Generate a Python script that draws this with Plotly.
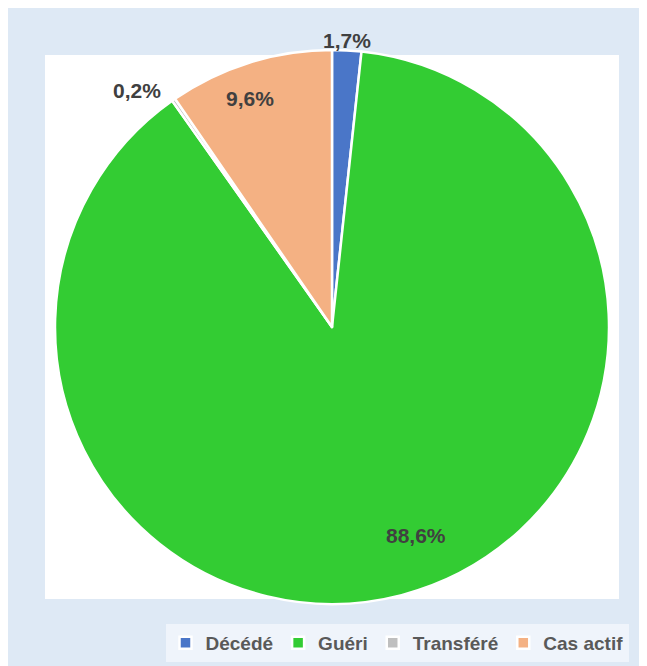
import plotly.graph_objects as go

categories = ["Décédé", "Guéri", "Transféré", "Cas actif"]
values = [1.7, 88.6, 0.2, 9.6]
colors = ["#4A76C8", "#33CC33", "#BFBFBF", "#F4B183"]
# label anchor points (page pixels) as placed by the original chart
label_px = [(347, 40), (416, 535), (137, 90), (250, 98)]

OFF = 8  # body margin of the html page
W, H = 647 - OFF, 666 - OFF


def px(x):
    return (x - OFF) / W


def py(y):
    return 1 - (y - OFF) / H


labels_text = [f"{v:.1f}%".replace(".", ",") for v in values]

cx, cy, r = 332, 327, 277

fig = go.Figure()
fig.add_trace(go.Pie(
    labels=categories,
    values=values,
    sort=False,
    direction="clockwise",
    rotation=0,
    marker=dict(colors=colors, line=dict(color="white", width=2.5)),
    textinfo="none",
    hoverinfo="label+percent",
    domain=dict(x=[px(cx - r), px(cx + r)], y=[py(cy + r), py(cy - r)]),
    showlegend=True,
))

annotations = []
for t, (lx, ly) in zip(labels_text, label_px):
    annotations.append(dict(
        x=px(lx), y=py(ly), xref="paper", yref="paper",
        text=t, showarrow=False, xanchor="center", yanchor="middle",
        font=dict(family="Liberation Sans, Arial", size=21, color="#404040", weight="bold"),
    ))

fig.update_layout(
    width=W, height=H,
    margin=dict(l=0, r=0, t=0, b=0),
    paper_bgcolor="white",
    plot_bgcolor="white",
    annotations=annotations,
    shapes=[
        dict(type="rect", xref="paper", yref="paper", layer="below",
             x0=px(7), x1=px(643), y0=-0.05, y1=py(7),
             fillcolor="#DEE9F5", line=dict(width=0)),
        dict(type="rect", xref="paper", yref="paper", layer="below",
             x0=px(45), x1=px(619), y0=py(599), y1=py(55),
             fillcolor="white", line=dict(width=0)),
    ],
    legend=dict(
        orientation="h",
        x=px(397), xanchor="center",
        y=py(643), yanchor="middle",
        bgcolor="#EFF4FB",
        font=dict(family="Liberation Sans, Arial", size=19, color="#595959", weight="bold"),
        itemwidth=30,
        traceorder="normal",
    ),
)

fig.write_html("out.html")
